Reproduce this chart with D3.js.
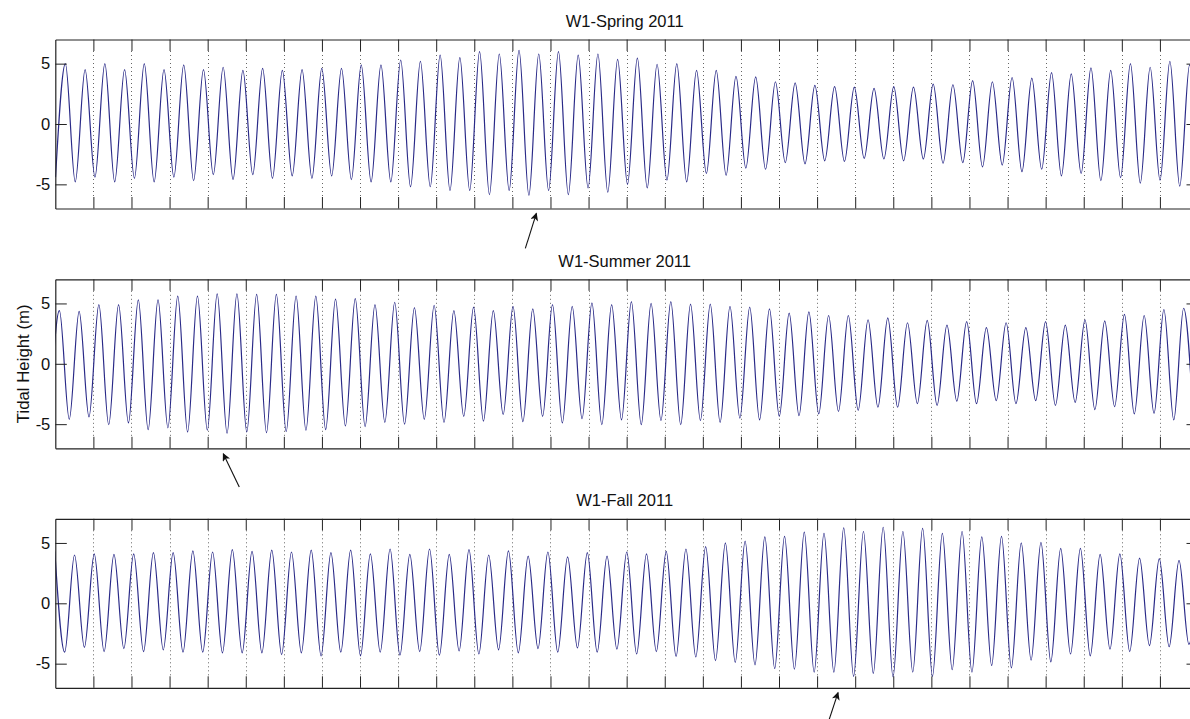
<!DOCTYPE html>
<html>
<head>
<meta charset="utf-8">
<script src="https://cdn.jsdelivr.net/npm/d3@7/dist/d3.min.js"></script>
<style>
  html, body { margin: 0; padding: 0; background: #fff; }
  svg { display: block; }
  text { font-family: "Liberation Sans", Arial, Helvetica, sans-serif; fill: #111; }
</style>
</head>
<body>
<svg id="chart" width="1190" height="719"></svg>
<script>
// ---------------- DATA ----------------
const panelTitles = ["W1-Spring 2011", "W1-Summer 2011", "W1-Fall 2011"];
const yTickValues = [-5, 0, 5];
const dayTicks = [1,2,3,4,5,6,7,8,9,10,11,12,13,14,15,16,17,18,19,20,21,22,23,24,25,26,27,28,29];
const xDomainDays = [0, 30];
const yDomain = [-7, 7];
const halfTidePeriodDays = 0.2589;   // time between successive high and low water

// Spring 2011: alternating extremes (low, high, low, ...) starting at day springStart
const springStart = 0.006;
const springExtremes = [-4.4,
  5.0,-4.8, 4.5,-4.4, 5.0,-4.8, 4.5,-4.5, 5.0,-4.8, 4.5,-4.4, 4.9,-4.7, 4.5,-4.2,
  4.7,-4.6, 4.45,-4.2, 4.6,-4.5, 4.45,-4.3, 4.5,-4.5, 4.6,-4.3, 4.6,-4.6, 4.9,-4.8,
  4.9,-4.8, 5.3,-5.2, 5.2,-5.2, 5.7,-5.5, 5.5,-5.5, 6.0,-5.85, 5.8,-5.5, 6.1,-5.9,
  5.8,-5.5, 6.0,-5.85, 5.7,-5.3, 5.8,-5.65, 5.35,-5.0, 5.45,-5.3, 4.95,-4.65, 5.0,-4.8,
  4.45,-4.1, 4.45,-4.25, 3.95,-3.65, 3.9,-3.75, 3.5,-3.2, 3.4,-3.3, 3.2,-3.05, 3.1,-3.1,
  3.05,-2.85, 2.95,-2.9, 3.1,-3.05, 3.05,-2.9, 3.3,-3.25, 3.25,-3.2, 3.6,-3.55, 3.5,-3.4,
  3.85,-3.95, 3.8,-3.75, 4.25,-4.3, 4.15,-4.1, 4.65,-4.7, 4.45,-4.45, 5.0,-4.9, 4.7,-4.65,
  5.2,-5.15, 4.9,-5.0];

// Summer 2011
const summerStart = -0.151;
const summerExtremes = [-4.5,
  4.4,-4.6, 4.35,-4.4, 4.9,-5.05, 4.9,-4.9, 5.3,-5.45, 5.3,-5.3, 5.6,-5.65, 5.6,-5.5,
  5.8,-5.75, 5.8,-5.65, 5.75,-5.7, 5.75,-5.6, 5.6,-5.5, 5.6,-5.45, 5.35,-5.15, 5.4,-5.2,
  4.9,-4.85, 5.1,-5.0, 4.65,-4.6, 4.85,-4.85, 4.4,-4.35, 4.7,-4.75, 4.4,-4.2, 4.75,-4.8,
  4.55,-4.35, 4.9,-4.9, 4.75,-4.55, 5.05,-5.05, 4.9,-4.65, 5.15,-5.05, 5.0,-4.7, 5.15,-5.05,
  4.95,-4.7, 4.95,-4.85, 4.75,-4.5, 4.7,-4.65, 4.55,-4.35, 4.2,-4.3, 4.3,-4.15, 4.0,-3.95,
  4.0,-3.85, 3.65,-3.6, 3.8,-3.6, 3.4,-3.3, 3.6,-3.45, 3.2,-3.1, 3.5,-3.3, 3.0,-3.05,
  3.4,-3.3, 3.0,-3.05, 3.5,-3.45, 3.2,-3.2, 3.65,-3.8, 3.55,-3.55, 4.1,-4.15, 4.0,-4.1,
  4.5,-4.65, 4.6,-4.7];

// Fall 2011 (starts with a high)
const fallStart = -0.013;
const fallExtremes = [4.3,
  -4.05, 4.0, -3.65, 4.1, -4.0, 4.05, -3.75, 4.1, -4.0, 4.2, -3.85, 4.2, -4.05, 4.35,
  -4.05, 4.25, -4.1, 4.45, -4.1, 4.3, -4.1, 4.4, -4.25, 4.25, -4.1, 4.4, -4.35, 4.2,
  -4.05, 4.4, -4.35, 4.1, -4.05, 4.5, -4.3, 4.05, -4.0, 4.5, -4.3, 4.05, -3.95, 4.45,
  -4.2, 4.0, -3.85, 4.35, -4.1, 3.9, -3.75, 4.25, -4.05, 3.85, -3.7, 4.2, -4.05, 3.9,
  -3.8, 4.25, -4.2, 4.1, -4.0, 4.3, -4.4, 4.5, -4.45, 4.7, -4.75, 5.0, -4.9, 5.15,
  -5.1, 5.5, -5.4, 5.55, -5.45, 5.9, -5.7, 5.8, -5.7, 6.25, -6.05, 5.95, -5.8, 6.3,
  -6.1, 5.95, -5.7, 6.2, -6.05, 5.8, -5.5, 5.95, -5.7, 5.5, -5.15, 5.55, -5.35, 5.0,
  -4.7, 5.05, -4.85, 4.55, -4.2, 4.55, -4.35, 4.05, -3.8, 4.1, -4.0, 3.75, -3.5, 3.7,
  -3.6, 3.55, -3.4, 3.5];

const panelStarts = [springStart, summerStart, fallStart];
const panelSeries = [springExtremes, summerExtremes, fallExtremes];

// arrows: [tail day, tail value] -> [tip day, tip value] relative to the panel below which they sit
const arrowAnnotations = [
  { panel: 0, from: [12.34, -10.3], to: [12.63, -7.4] },
  { panel: 1, from: [4.83, -10.2], to: [4.41, -7.45] },
  { panel: 2, from: [20.32, -9.6], to: [20.55, -7.4] }
];

// ---------------- LAYOUT ----------------
const svg = d3.select("#chart");
const left = 55.3, right = 1198;
const tops = [39.5, 279.3, 518.8];
const plotH = 169;
const tickLen = 11.5;

const x = d3.scaleLinear().domain(xDomainDays).range([left, right]);

const defs = svg.append("defs");
defs.append("marker")
  .attr("id", "arrowhead")
  .attr("viewBox", "0 0 10 10")
  .attr("refX", 9).attr("refY", 5)
  .attr("markerWidth", 10).attr("markerHeight", 8)
  .attr("markerUnits", "userSpaceOnUse")
  .attr("orient", "auto")
  .append("path")
  .attr("d", "M0,0 L10,5 L0,10 L2.5,5 Z")
  .attr("fill", "#111");

panelTitles.forEach((title, i) => {
  const top = tops[i];
  const y = d3.scaleLinear().domain(yDomain).range([top + plotH, top]);
  const g = svg.append("g");

  defs.append("clipPath").attr("id", "clip" + i)
    .append("rect").attr("x", left).attr("y", top).attr("width", right - left).attr("height", plotH);

  // dotted day grid
  g.append("g").selectAll("line").data(dayTicks).join("line")
    .attr("x1", d => Math.round(x(d)) + 0.5).attr("x2", d => Math.round(x(d)) + 0.5)
    .attr("y1", top + tickLen).attr("y2", top + plotH - tickLen)
    .attr("stroke", "#666").attr("stroke-width", 1)
    .attr("stroke-dasharray", "1,3");

  // tide curve
  const pts = panelSeries[i].map((v, k) => [panelStarts[i] + k * halfTidePeriodDays, v]);
  const line = d3.line().x(d => x(d[0])).y(d => y(d[1])).curve(d3.curveMonotoneX);
  g.append("path")
    .attr("clip-path", "url(#clip" + i + ")")
    .attr("d", line(pts))
    .attr("fill", "none")
    .attr("stroke", "#2a2a88")
    .attr("stroke-width", 1.2)
    .attr("stroke-linejoin", "round");

  // axes (MATLAB style: ticks inward, box)
  const axBottom = d3.axisBottom(x).tickValues(dayTicks).tickFormat("").tickSizeInner(-tickLen).tickSizeOuter(0);
  const axTop = d3.axisTop(x).tickValues(dayTicks).tickFormat("").tickSizeInner(-tickLen).tickSizeOuter(0);
  const axLeft = d3.axisLeft(y).tickValues(yTickValues).tickFormat(d3.format("d")).tickSizeInner(-tickLen).tickSizeOuter(0).tickPadding(5);
  const axRight = d3.axisRight(y).tickValues(yTickValues).tickFormat("").tickSizeInner(-tickLen).tickSizeOuter(0);

  const styleAxis = sel => {
    sel.selectAll("path.domain").attr("stroke", "#222").attr("stroke-width", 1.2);
    sel.selectAll(".tick line").attr("stroke", "#222").attr("stroke-width", 1);
  };
  g.append("g").attr("transform", `translate(0,${top + plotH})`).call(axBottom).call(styleAxis);
  g.append("g").attr("transform", `translate(0,${top})`).call(axTop).call(styleAxis);
  const gl = g.append("g").attr("transform", `translate(${left},0)`).call(axLeft).call(styleAxis);
  gl.selectAll(".tick text")
    .attr("font-size", "16.5px")
    .attr("fill", "#111")
    .text(d => d < 0 ? "-" + Math.abs(d) : d);
  g.append("g").attr("transform", `translate(${right},0)`).call(axRight).call(styleAxis);

  // title
  g.append("text")
    .attr("x", (left + right) / 2 - 2)
    .attr("y", top - 12.8)
    .attr("text-anchor", "middle")
    .attr("font-size", "16.5px")
    .text(title);
});

// y label
svg.append("text")
  .attr("transform", `translate(29, ${tops[1] + plotH / 2}) rotate(-90)`)
  .attr("text-anchor", "middle")
  .attr("font-size", "16.8px")
  .text("Tidal Height (m)");

// arrows
arrowAnnotations.forEach(a => {
  const top = tops[a.panel];
  const y = d3.scaleLinear().domain(yDomain).range([top + plotH, top]);
  svg.append("line")
    .attr("x1", x(a.from[0])).attr("y1", y(a.from[1]))
    .attr("x2", x(a.to[0])).attr("y2", y(a.to[1]))
    .attr("stroke", "#111").attr("stroke-width", 1.1)
    .attr("marker-end", "url(#arrowhead)");
});
</script>
</body>
</html>
